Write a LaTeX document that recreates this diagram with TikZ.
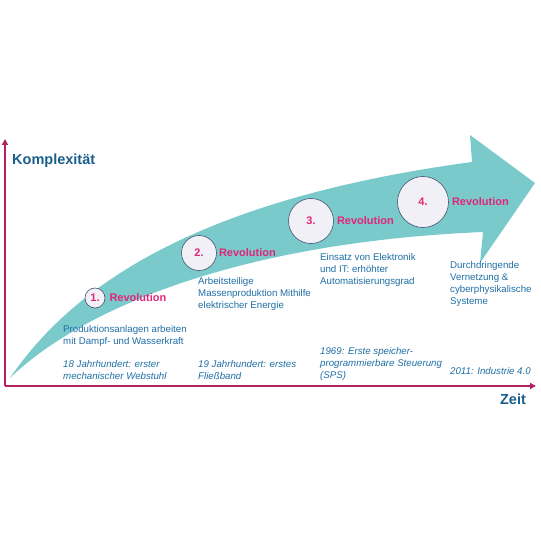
\documentclass[tikz,border=0pt]{standalone}
\usepackage{fontspec}
\setmainfont{Liberation Sans}
\usepackage{xcolor}
\usepackage{tikz}
\usetikzlibrary{shapes.geometric, arrows.meta, positioning}

\definecolor{axiscol}{RGB}{178,34,96}
\definecolor{titlecol}{RGB}{26,94,140}
\definecolor{textcol}{RGB}{30,110,165}
\definecolor{revcol}{RGB}{226,37,120}
\definecolor{bandcol}{RGB}{122,202,204}
\definecolor{circfill}{RGB}{240,240,246}
\definecolor{circline}{RGB}{70,80,110}

\begin{document}
\begin{tikzpicture}[
    x=1pt, y=-1pt,
    axis/.style = {draw=axiscol, line width=2pt, -{Triangle[length=6pt, width=6pt]}},
    axlabel/.style = {text=titlecol, font=\fontsize{14.5}{16}\selectfont\bfseries, inner sep=0pt},
    revcircle/.style = {circle, draw=circline, line width=0.6pt, fill=circfill, inner sep=0pt, text=revcol, font=\fontsize{11}{13}\selectfont\bfseries},
    revlabel/.style = {text=revcol, font=\fontsize{11}{13}\selectfont\bfseries, inner sep=0pt},
    desc/.style = {text=textcol, font=\fontsize{9.7}{12}\selectfont, align=left, anchor=north west, inner sep=0pt},
    event/.style = {desc, font=\fontsize{9.7}{12}\selectfont\itshape}
]
    \useasboundingbox (0,0) rectangle (540,540);

    % Band
    \fill[bandcol] (10,378) .. controls (70,290) and (190,200) .. (472,162)
        -- (470,135) -- (535,183) -- (480,263) -- (483,232)
        .. controls (225,243) and (75,315) .. (10,378) -- cycle;

    % Axes
    \coordinate (origin) at (5,386);
    \coordinate (ytip) at (5,139);
    \coordinate (xtip) at (536,386);
    \draw[axis] (origin) -- (ytip);
    \draw[axis] (origin) -- (xtip);
    \node (komplex) [axlabel, anchor=west] at (12,161) {Komplexität};
    \node (zeit) [axlabel] at (513,399) {Zeit};

    % Revolutions
    \node (c1) [revcircle, minimum size=20pt] at (95,298) {1.};
    \node (r1) [revlabel, right=4pt of c1] {Revolution};
    \node (c2) [revcircle, minimum size=35pt] at (199,253) {2.};
    \node (r2) [revlabel, right=2pt of c2] {Revolution};
    \node (c3) [revcircle, minimum size=45pt] at (311,221) {3.};
    \node (r3) [revlabel, right=3pt of c3] {Revolution};
    \node (c4) [revcircle, minimum size=51pt] at (423,202) {4.};
    \node (r4) [revlabel, right=3pt of c4] {Revolution};

    % Descriptions
    \node (d1) [desc] at (63,325) {Produktionsanlagen arbeiten\\mit Dampf- und Wasserkraft};
    \node (d2) [desc] at (198,277) {Arbeitsteilige\\Massenproduktion Mithilfe\\elektrischer Energie};
    \node (d3) [desc] at (320,253) {Einsatz von Elektronik\\und IT: erhöhter\\Automatisierungsgrad};
    \node (d4) [desc] at (450,261) {Durchdringende\\Vernetzung \&\\cyberphysikalische\\Systeme};

    % Events
    \node (e1) [event] at (63,360) {18 Jahrhundert: erster\\mechanischer Webstuhl};
    \node (e2) [event] at (198,360) {19 Jahrhundert: erstes\\Fließband};
    \node (e3) [event] at (320,347) {1969: Erste speicher-\\programmierbare Steuerung\\(SPS)};
    \node (e4) [event] at (450,367) {2011: Industrie 4.0};

\end{tikzpicture}
\end{document}
